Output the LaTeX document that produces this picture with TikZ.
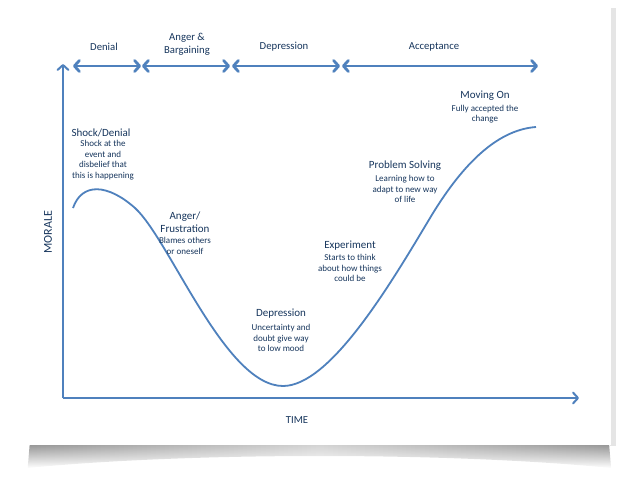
\documentclass[tikz,border=0pt]{standalone}
\usepackage{fontspec}
\setmainfont{Carlito}
\usetikzlibrary{arrows.meta,fadings}
\definecolor{curveblue}{RGB}{79,129,189}
\definecolor{textnavy}{RGB}{23,54,93}

\begin{document}
\begin{tikzpicture}[x=1pt,y=-1pt,>={Straight Barb[length=5pt,width=11pt,round]},
	phase/.style={text=textnavy,font=\fontsize{10.7}{13}\selectfont,align=center,inner sep=0pt},
	stagetitle/.style={text=textnavy,font=\fontsize{11}{13}\selectfont,align=center,inner sep=0pt},
	stagebody/.style={text=textnavy,font=\fontsize{9}{10.5}\selectfont,align=center,inner sep=0pt},
	axis/.style={curveblue,line width=2pt},
	span/.style={curveblue,line width=2.8pt,<->}]
				\useasboundingbox (0,0) rectangle (630,480);
				% page and its shadow
				\shade[left color=gray!85,right color=gray!85,middle color=gray!35,path fading=south] (30,444) -- (610,444) -- (612,468) .. controls (450,452) and (190,452) .. (28,468) -- cycle;
				\fill[gray!20] (610,8) rectangle (616,446);
				\fill[white] (28,5) rectangle (611,445);
				% axes
				\coordinate (origin) at (63,398);
				\coordinate (ytop) at (63,64);
				\coordinate (xend) at (579,398);
				\draw[axis,->] (origin) -- (ytop);
				\draw[axis,->] (origin) -- (xend);
				\node[phase,rotate=90,font=\fontsize{12}{13}\selectfont] (morale) at (48,232) {MORALE};
				\node[phase] (time) at (297,420) {TIME};
				% phases along the top
				\coordinate (p0) at (73,66);
				\coordinate (p1) at (141,66);
				\coordinate (p1b) at (142,66);
				\coordinate (p2) at (230,66);
				\coordinate (p2b) at (232,66);
				\coordinate (p3) at (340,66);
				\coordinate (p3b) at (342,66);
				\coordinate (p4) at (538,66);
				\draw[span] (p0) -- (p1);
				\draw[span] (p1b) -- (p2);
				\draw[span] (p2b) -- (p3);
				\draw[span] (p3b) -- (p4);
				\node[phase] (denial) at (104,47) {Denial};
				\node[phase] (anger) at (187,44) {Anger \&\\Bargaining};
				\node[phase] (depression) at (284,47) {Depression};
				\node[phase] (acceptance) at (434,47) {Acceptance};
				% change curve
				\draw[curveblue,line width=1.8pt] (73,208) .. controls (82,182) and (108,184) .. (135,208)
					.. controls (170,240) and (225,386) .. (283,386)
					.. controls (330,386) and (390,285) .. (430,218)
					.. controls (460,168) and (495,130) .. (536,127);
				% stages
				\node[stagetitle] (shock) at (101,133) {Shock/Denial};
				\node[stagebody] (shockbody) at (103,160) {Shock at the\\event and\\disbelief that\\this is happening};
				\node[stagetitle] (frustration) at (185,222) {Anger/\\Frustration};
				\node[stagebody] (frustrationbody) at (185,246) {Blames others\\or oneself};
				\node[stagetitle] (low) at (281,314) {Depression};
				\node[stagebody] (lowbody) at (281,338) {Uncertainty and\\doubt give way\\to low mood};
				\node[stagetitle] (experiment) at (350,246) {Experiment};
				\node[stagebody] (experimentbody) at (350,268) {Starts to think\\about how things\\could be};
				\node[stagetitle] (solving) at (405,166) {Problem Solving};
				\node[stagebody] (solvingbody) at (405,189) {Learning how to\\adapt to new way\\of life};
				\node[stagetitle] (moving) at (485,96) {Moving On};
				\node[stagebody] (movingbody) at (485,114) {Fully accepted the\\change};
		\end{tikzpicture}
\end{document}
